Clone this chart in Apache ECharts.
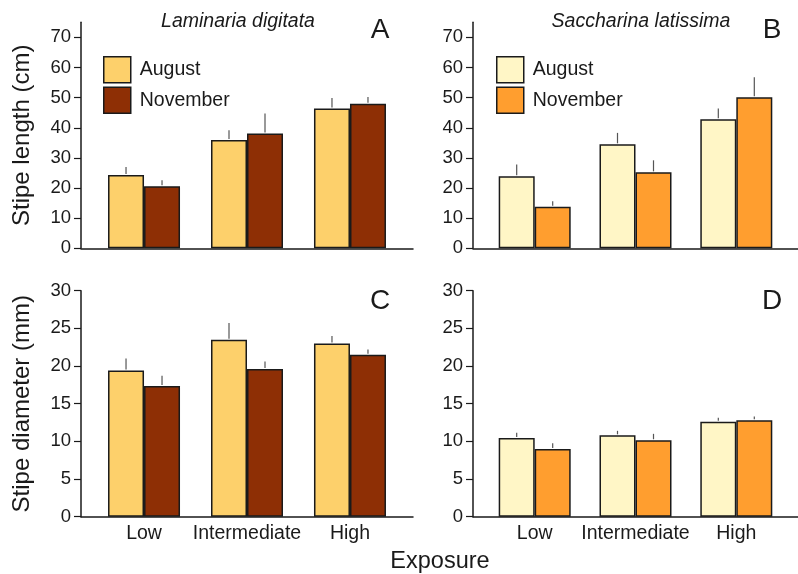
<!DOCTYPE html>
<html><head><meta charset="utf-8">
<script src="https://cdn.jsdelivr.net/npm/echarts@6/dist/echarts.min.js"></script>
<style>html,body{margin:0;padding:0;background:#fff}#c{width:798px;height:574px}</style>
</head><body><div id="c"></div>
<script>
var categories = ['Low', 'Intermediate', 'High'];
var xPos = [1, 2, 3];
var lengthTicks = [0, 10, 20, 30, 40, 50, 60, 70];
var diameterTicks = [0, 5, 10, 15, 20, 25, 30];
// Panel A: Laminaria digitata, stipe length (cm)
var lenAugLD = [24.3, 35.9, 46.4];
var lenAugLDErr = [2.7, 3.3, 3.5];
var lenNovLD = [20.6, 38.1, 48.0];
var lenNovLDErr = [2.0, 6.6, 2.2];
// Panel B: Saccharina latissima, stipe length (cm)
var lenAugSL = [23.9, 34.5, 42.8];
var lenAugSLErr = [3.9, 3.8, 3.6];
var lenNovSL = [13.8, 25.2, 50.1];
var lenNovSLErr = [1.8, 4.0, 6.7];
// Panel C: Laminaria digitata, stipe diameter (mm)
var diaAugLD = [19.4, 23.5, 23.0];
var diaAugLDErr = [1.6, 2.2, 1.0];
var diaNovLD = [17.35, 19.6, 21.5];
var diaNovLDErr = [1.35, 1.0, 0.7];
// Panel D: Saccharina latissima, stipe diameter (mm)
var diaAugSL = [10.45, 10.8, 12.6];
var diaAugSLErr = [0.7, 0.6, 0.55];
var diaNovSL = [9.0, 10.15, 12.8];
var diaNovSLErr = [0.75, 0.85, 0.5];

var FONT = 'Liberation Sans, Arial, sans-serif';
var TXT = '#1a1a1a';
var colAugLD = '#FDD06B', colNovLD = '#8E2F05';
var colAugSL = '#FFF6C6', colNovSL = '#FF9E2F';
var BW = 36;

var grids = [
  {left: 81, right: 385, top: 22.3, bottom: 325.7},
  {left: 473, right: -9, top: 22.3, bottom: 325.7},
  {left: 81, right: 385, top: 290.7, bottom: 57.3},
  {left: 473, right: -9, top: 290.7, bottom: 57.3}
];

function xAxisFor(i, showLabels) {
  return {
    type: 'value', gridIndex: i, min: 0.388, max: 3.612,
    splitLine: {show: false},
    axisLine: {show: true, onZero: false, lineStyle: {color: TXT, width: 1.5}},
    axisTick: {show: false},
    axisLabel: {show: showLabels, customValues: xPos, fontFamily: FONT, fontSize: 19.5, color: TXT, margin: 7,
      formatter: function (v) { return categories[xPos.indexOf(v)] || ''; }}
  };
}
function yAxisFor(i, max, ticks, name) {
  return {
    type: 'value', gridIndex: i, min: 0, max: max,
    name: name, nameLocation: 'middle', nameGap: 47,
    nameTextStyle: {fontFamily: FONT, fontSize: 24, color: TXT},
    splitLine: {show: false},
    axisLine: {show: true, lineStyle: {color: TXT, width: 1.5}},
    axisTick: {show: true, length: 7, customValues: ticks, lineStyle: {color: TXT, width: 1.2}},
    axisLabel: {customValues: ticks, fontFamily: FONT, fontSize: 18.5, color: TXT, margin: 10}
  };
}
function pairs(vals) { return vals.map(function (v, k) { return [xPos[k], v]; }); }
function barSeries(i, name, vals, color) {
  return {
    type: 'bar', name: name, xAxisIndex: i, yAxisIndex: i, barWidth: BW, barGap: '0%',
    data: pairs(vals),
    itemStyle: {color: color, borderColor: '#1a1a1a', borderWidth: 1.5},
    emphasis: {disabled: true}
  };
}
function errSeries(i, vals, errs, side) {
  return {
    type: 'custom', xAxisIndex: i, yAxisIndex: i, silent: true, z: 1,
    data: vals.map(function (v, k) { return [xPos[k], v, errs[k]]; }),
    encode: {x: 0, y: 1},
    renderItem: function (params, api) {
      var p0 = api.coord([api.value(0), api.value(1)]);
      var p1 = api.coord([api.value(0), api.value(1) + api.value(2)]);
      var dx = side * BW / 2;
      return {type: 'line', shape: {x1: p0[0] + dx, y1: p0[1] - 1, x2: p1[0] + dx, y2: p1[1]},
        style: {stroke: '#555', lineWidth: 1.2}};
    }
  };
}
function legendFor(left, augCol, novCol) {
  return {
    orient: 'vertical', left: left, top: 51, itemWidth: 27, itemHeight: 26, itemGap: 3,
    selectedMode: false,
    textStyle: {fontFamily: FONT, fontSize: 19.5, color: TXT, padding: [0, 0, 0, 4]},
    data: [
      {name: 'August', icon: 'rect', itemStyle: {color: augCol, borderColor: '#1a1a1a', borderWidth: 1.5}},
      {name: 'November', icon: 'rect', itemStyle: {color: novCol, borderColor: '#1a1a1a', borderWidth: 1.5}}
    ]
  };
}
function letter(t, x, y) {
  return {text: t, left: x, top: y, textAlign: 'center',
    textStyle: {fontFamily: FONT, fontSize: 28, fontWeight: 'normal', color: TXT}};
}

var option = {
  animation: false,
  backgroundColor: '#fff',
  grid: grids,
  xAxis: [xAxisFor(0, false), xAxisFor(1, false), xAxisFor(2, true), xAxisFor(3, true)],
  yAxis: [
    yAxisFor(0, 75, lengthTicks, 'Stipe length (cm)'),
    yAxisFor(1, 75, lengthTicks, ''),
    yAxisFor(2, 30, diameterTicks, 'Stipe diameter (mm)'),
    yAxisFor(3, 30, diameterTicks, '')
  ],
  legend: [legendFor(98, colAugLD, colNovLD), legendFor(491, colAugSL, colNovSL)],
  title: [
    {text: 'Laminaria digitata', left: 233, top: 7, textAlign: 'center',
      textStyle: {fontFamily: FONT, fontSize: 19.5, fontStyle: 'italic', fontWeight: 'normal', color: TXT}},
    {text: 'Saccharina latissima', left: 636, top: 7, textAlign: 'center',
      textStyle: {fontFamily: FONT, fontSize: 19.5, fontStyle: 'italic', fontWeight: 'normal', color: TXT}},
    letter('A', 375, 11), letter('B', 767, 11), letter('C', 375, 282), letter('D', 767, 282),
    {text: 'Exposure', left: 435, top: 545, textAlign: 'center',
      textStyle: {fontFamily: FONT, fontSize: 23.5, fontWeight: 'normal', color: TXT}}
  ],
  series: [
    barSeries(0, 'August', lenAugLD, colAugLD), barSeries(0, 'November', lenNovLD, colNovLD),
    errSeries(0, lenAugLD, lenAugLDErr, -1), errSeries(0, lenNovLD, lenNovLDErr, 1),
    barSeries(1, 'August', lenAugSL, colAugSL), barSeries(1, 'November', lenNovSL, colNovSL),
    errSeries(1, lenAugSL, lenAugSLErr, -1), errSeries(1, lenNovSL, lenNovSLErr, 1),
    barSeries(2, 'August', diaAugLD, colAugLD), barSeries(2, 'November', diaNovLD, colNovLD),
    errSeries(2, diaAugLD, diaAugLDErr, -1), errSeries(2, diaNovLD, diaNovLDErr, 1),
    barSeries(3, 'August', diaAugSL, colAugSL), barSeries(3, 'November', diaNovSL, colNovSL),
    errSeries(3, diaAugSL, diaAugSLErr, -1), errSeries(3, diaNovSL, diaNovSLErr, 1)
  ]
};
var chart = echarts.init(document.getElementById('c'), null, {renderer: 'canvas'});
chart.setOption(option);
</script></body></html>
